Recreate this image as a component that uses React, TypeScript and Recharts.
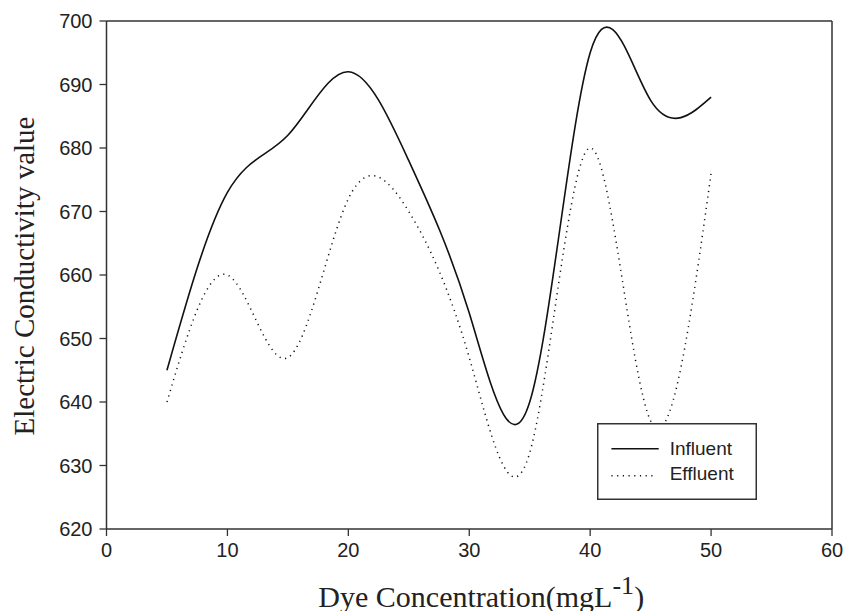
import React from 'react';
import { LineChart, Line, XAxis, YAxis, ReferenceLine, Legend } from 'recharts';

const concentrations = [5, 10, 15, 20, 25, 30, 35, 40, 45, 50];
const influent = [645, 673, 682, 692, 678, 654, 640, 695, 687.5, 688];
const effluent = [640, 660, 647, 672, 670, 647, 632, 680, 637, 676];
const xTicks = [0, 10, 20, 30, 40, 50, 60];
const yTicks = [620, 630, 640, 650, 660, 670, 680, 690, 700];

const data = concentrations.map((x, i) => ({ x, influent: influent[i], effluent: effluent[i] }));

const AXIS = '#333';
const SANS = '"Liberation Sans", Arial, sans-serif';
const SERIF = '"Liberation Serif", "Times New Roman", serif';

const LegendBox = () => (
  <svg width={160} height={77} style={{ display: 'block' }}>
    <rect x={0.75} y={0.75} width={158.5} height={75.5} fill="#fff" stroke={AXIS} strokeWidth={1.5} />
    <line x1={14.4} x2={61.7} y1={25.7} y2={25.7} stroke="#111" strokeWidth={1.6} />
    <line x1={14.4} x2={57} y1={52.7} y2={52.7} stroke="#111" strokeWidth={1.5} strokeDasharray="1.2 4.5" />
    <text x={72.7} y={32.4} fontFamily={SANS} fontSize={19} fill="#222">Influent</text>
    <text x={72.7} y={57.4} fontFamily={SANS} fontSize={19} fill="#222">Effluent</text>
  </svg>
);

const XTitle = (props: any) => {
  const vb = props.viewBox || {};
  const cx = vb.x + vb.width / 2 + 12;
  const y = 606.5;
  return (
    <text x={cx} y={y} textAnchor="middle" fontFamily={SERIF} fontSize={30} fill="#222">
      <tspan>Dye Concentration(mgL</tspan>
      <tspan dy={-13} fontSize={26}>-1</tspan>
      <tspan dy={13}>)</tspan>
    </text>
  );
};

const YTitle = (props: any) => {
  const vb = props.viewBox || {};
  const x = (vb.x || 0) + 34;
  const y = vb.y + vb.height / 2 + 1;
  return (
    <text x={x} y={y} transform={`rotate(-90, ${x}, ${y})`} textAnchor="middle" fontFamily={SERIF} fontSize={29} fill="#222">
      Electric Conductivity value
    </text>
  );
};

export default function App() {
  return (
    <div style={{ position: 'absolute', left: 0, top: 0, background: '#fff' }}>
      <LineChart width={858} height={611} data={data} margin={{ top: 21, right: 26, left: 0, bottom: 0 }}>
        <XAxis
          type="number"
          dataKey="x"
          domain={[0, 60]}
          ticks={xTicks}
          interval={0}
          height={82}
          tickSize={7}
          tickMargin={7}
          axisLine={{ stroke: AXIS, strokeWidth: 1.5 }}
          tickLine={{ stroke: AXIS, strokeWidth: 1.3 }}
          tick={{ fontFamily: SANS, fontSize: 20, fill: '#222' }}
          label={XTitle}
        />
        <YAxis
          type="number"
          domain={[620, 700]}
          ticks={yTicks}
          interval={0}
          width={106.5}
          tickSize={7}
          tickMargin={7}
          axisLine={{ stroke: AXIS, strokeWidth: 1.5 }}
          tickLine={{ stroke: AXIS, strokeWidth: 1.3 }}
          tick={{ fontFamily: SANS, fontSize: 20, fill: '#222' }}
          label={YTitle}
        />
        <ReferenceLine y={700} stroke={AXIS} strokeWidth={1.5} />
        <ReferenceLine x={60} stroke={AXIS} strokeWidth={1.5} />
        <Line
          type="natural"
          dataKey="influent"
          stroke="#111"
          strokeWidth={1.6}
          dot={false}
          activeDot={false}
          isAnimationActive={false}
        />
        <Line
          type="natural"
          dataKey="effluent"
          stroke="#111"
          strokeWidth={1.5}
          strokeDasharray="1.2 4.5"
          dot={false}
          activeDot={false}
          isAnimationActive={false}
        />
        <Legend
          layout="vertical"
          align="center"
          verticalAlign="middle"
          wrapperStyle={{ left: 597, top: 423, width: 160, height: 77 }}
          content={() => <LegendBox />}
        />
      </LineChart>
    </div>
  );
}
